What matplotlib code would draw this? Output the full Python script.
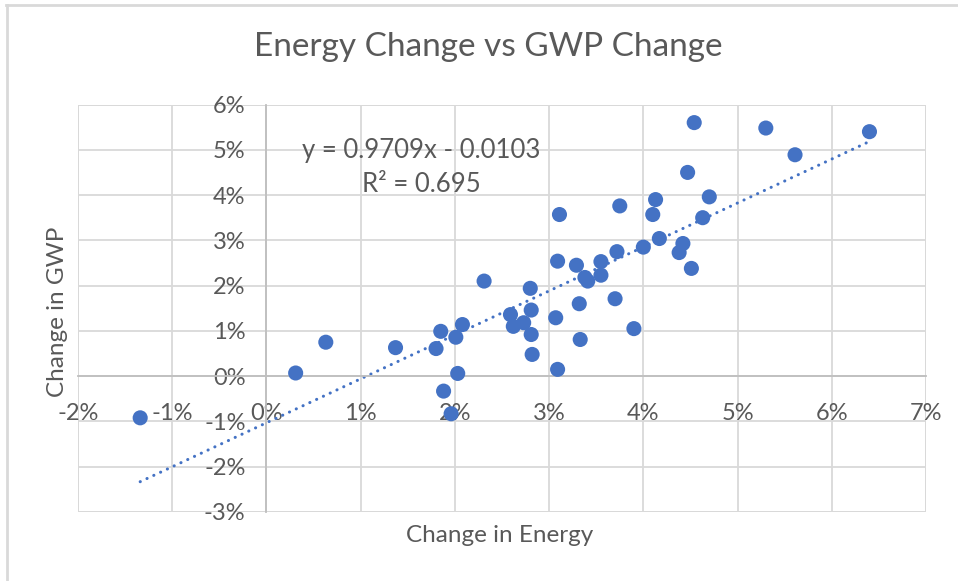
import matplotlib
matplotlib.use("Agg")
import matplotlib.pyplot as plt
from matplotlib.ticker import FuncFormatter, MultipleLocator
from matplotlib.lines import Line2D
import numpy as np

plt.rcParams['font.family'] = ['Lato', 'DejaVu Sans']

# Data (percent change)
energy_change = [-1.34, 0.31, 0.63, 1.37, 1.80, 1.85, 1.88, 1.96, 2.01, 2.03, 2.08,
                 2.31, 2.59, 2.62, 2.73, 2.80, 2.81, 2.81, 2.82, 3.07, 3.09, 3.09,
                 3.11, 3.29, 3.32, 3.33, 3.38, 3.41, 3.55, 3.55, 3.70, 3.72, 3.75,
                 3.90, 4.00, 4.10, 4.13, 4.17, 4.38, 4.42, 4.47, 4.51, 4.54, 4.63,
                 4.70, 5.30, 5.61, 6.40]
gwp_change = [-0.92, 0.07, 0.75, 0.63, 0.61, 0.99, -0.33, -0.83, 0.86, 0.06, 1.14,
              2.10, 1.36, 1.10, 1.18, 1.94, 1.46, 0.92, 0.48, 1.29, 0.15, 2.54,
              3.57, 2.45, 1.60, 0.81, 2.18, 2.10, 2.53, 2.23, 1.71, 2.75, 3.76,
              1.05, 2.85, 3.57, 3.90, 3.04, 2.73, 2.93, 4.50, 2.38, 5.60, 3.50,
              3.96, 5.48, 4.89, 5.40]
trend_slope = 0.9709
trend_intercept = -0.0103
r_squared = 0.695

title = "Energy Change vs GWP Change"
x_label = "Change in Energy"
y_label = "Change in GWP"

blue = "#4472C4"
grid_c = "#D9D9D9"
text_c = "#595959"

fig = plt.figure(figsize=(9.58, 5.81), dpi=100)
ax = fig.add_axes([78/958, 69/581, (926-78)/958, (512-104.5)/581])

ax.set_xlim(-2, 7)
ax.set_ylim(-3, 6)
ax.xaxis.set_major_locator(MultipleLocator(1))
ax.yaxis.set_major_locator(MultipleLocator(1))
ax.grid(True, color=grid_c, lw=1.3, zorder=0)
ax.set_axisbelow(True)
for s in ['top', 'right']:
    ax.spines[s].set_visible(False)
ax.spines['left'].set_position(('data', 0))
ax.spines['bottom'].set_position(('data', 0))
ax.spines['left'].set_color("#BFBFBF")
ax.spines['bottom'].set_color("#BFBFBF")
ax.spines['left'].set_linewidth(1.3)
ax.spines['bottom'].set_linewidth(1.3)
ax.tick_params(length=0, labelsize=17, labelcolor=text_c)
ax.tick_params(axis='x', pad=19)
ax.tick_params(axis='y', pad=15)
fmt = FuncFormatter(lambda v, p: f"{int(round(v))}%")
ax.xaxis.set_major_formatter(fmt)
ax.yaxis.set_major_formatter(fmt)

# outer frame gridlines at limits
for xv in (-2, 7):
    ax.axvline(xv, color=grid_c, lw=1.3, zorder=0)
for yv in (-3, 6):
    ax.axhline(yv, color=grid_c, lw=1.3, zorder=0)

ax.scatter(energy_change, gwp_change, s=118, color=blue, zorder=3, edgecolors='none')

xs = np.array([min(energy_change), max(energy_change)])
ys = (trend_slope * xs / 100 + trend_intercept) * 100
ax.plot(xs, ys, color=blue, lw=2.2, linestyle=(0, (0.05, 2.4)),
        dash_capstyle='round', zorder=2)

fig.text(421/958, 1 - 150/581, f"y = {trend_slope}x - {abs(trend_intercept)}",
         ha='center', va='center', fontsize=18.5, color=text_c)
fig.text(421/958, 1 - 185/581, f"R² = {r_squared}",
         ha='center', va='center', fontsize=18.5, color=text_c)

fig.text(488/958, 1 - 47/581, title, ha='center', va='center', fontsize=24, color=text_c)
fig.text(500/958, 1 - 535/581, x_label, ha='center', va='center', fontsize=17.5, color=text_c)
fig.text(57/958, 1 - 312/581, y_label, ha='center', va='center', fontsize=17.5,
         color=text_c, rotation=90)

# chart border
fig.add_artist(Line2D([6/958, 1], [1 - 5/581]*2, color="#D9D9D9", lw=2, transform=fig.transFigure))
fig.add_artist(Line2D([7/958]*2, [0, 1 - 5/581], color="#D9D9D9", lw=2, transform=fig.transFigure))

fig.savefig("out.png", dpi=100, facecolor='white')
